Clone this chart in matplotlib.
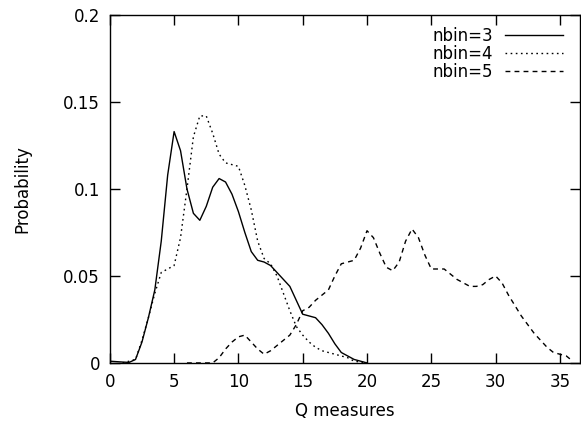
import matplotlib
matplotlib.use('Agg')
import matplotlib.pyplot as plt

# nbin=3 (solid)
x3 = [0, 1, 1.5, 2, 2.5, 3, 3.5, 4, 4.5, 5, 5.5, 6, 6.5, 7, 7.5, 8, 8.5, 9, 9.5, 10,
      10.5, 11, 11.5, 12, 12.5, 13, 13.5, 14, 14.5, 15, 15.5, 16, 16.5, 17, 17.5, 18,
      18.5, 19, 19.5, 20]
y3 = [0.001, 0.0005, 0.0003, 0.002, 0.012, 0.026, 0.042, 0.07, 0.108, 0.133, 0.122,
      0.1, 0.086, 0.082, 0.09, 0.101, 0.106, 0.104, 0.097, 0.087, 0.075, 0.064, 0.059,
      0.058, 0.056, 0.052, 0.048, 0.044, 0.036, 0.028, 0.027, 0.026, 0.022, 0.017,
      0.011, 0.006, 0.004, 0.002, 0.001, 0]

# nbin=4 (dotted)
x4 = [1, 2, 2.5, 3, 3.5, 4, 4.5, 5, 5.5, 6, 6.5, 7, 7.5, 8, 8.5, 9, 9.5, 10, 10.5, 11,
      11.5, 12, 12.5, 13, 13.5, 14, 14.5, 15, 15.5, 16, 16.5, 17, 17.5, 18, 18.5, 19,
      19.5, 20]
y4 = [0, 0.002, 0.013, 0.026, 0.04, 0.052, 0.054, 0.056, 0.072, 0.1, 0.13, 0.142,
      0.142, 0.132, 0.12, 0.115, 0.114, 0.113, 0.102, 0.088, 0.07, 0.06, 0.057, 0.05,
      0.04, 0.03, 0.021, 0.016, 0.012, 0.009, 0.007, 0.006, 0.005, 0.004, 0.003, 0.001,
      0.0005, 0]

# nbin=5 (dashed)
x5 = [6, 8, 8.5, 9, 9.5, 10, 10.5, 11, 11.5, 12, 12.5, 13, 13.5, 14, 14.5, 15, 15.5,
      16, 16.5, 17, 17.5, 18, 18.5, 19, 19.5, 20, 20.5, 21, 21.5, 22, 22.5, 23, 23.5,
      24, 24.5, 25, 25.5, 26, 26.5, 27, 27.5, 28, 28.5, 29, 29.5, 30, 30.5, 31, 31.5,
      32, 32.5, 33, 33.5, 34, 34.5, 35, 35.5, 36]
y5 = [0, 0, 0.003, 0.008, 0.012, 0.015, 0.016, 0.012, 0.008, 0.005, 0.007, 0.01,
      0.013, 0.016, 0.022, 0.03, 0.032, 0.036, 0.039, 0.042, 0.05, 0.057, 0.058, 0.059,
      0.066, 0.076, 0.072, 0.063, 0.055, 0.053, 0.058, 0.07, 0.077, 0.072, 0.062, 0.054,
      0.054, 0.054, 0.051, 0.048, 0.046, 0.044, 0.044, 0.045, 0.048, 0.05, 0.046, 0.039,
      0.033, 0.027, 0.022, 0.017, 0.013, 0.009, 0.006, 0.005, 0.004, 0.001]

xticks = [0, 5, 10, 15, 20, 25, 30, 35]
yticks = [0, 0.05, 0.1, 0.15, 0.2]
ytick_labels = ['0', '0.05', '0.1', '0.15', '0.2']

plt.rcParams['font.family'] = 'DejaVu Sans'
fs = 12
fig = plt.figure(figsize=(5.81, 4.23), dpi=100)
ax = fig.add_axes([0.189, 0.142, 0.809, 0.8225])

ax.plot(x3, y3, color='black', lw=1.0, ls='-', label='nbin=3')
ax.plot(x4, y4, color='black', lw=1.0, ls=(0, (1.2, 2.5)), label='nbin=4')
ax.plot(x5, y5, color='black', lw=1.0, ls=(0, (3.5, 3)), label='nbin=5')

ax.set_xlim(0, 36.55)
ax.set_ylim(0, 0.2)
ax.set_xticks(xticks)
ax.set_yticks(yticks)
ax.set_yticklabels(ytick_labels)
ax.tick_params(direction='in', length=7, width=1, top=True, right=True,
               labelsize=fs, pad=7)
for s in ax.spines.values():
    s.set_linewidth(1.0)

ax.set_xlabel('Q measures', fontsize=fs, labelpad=8)
ax.set_ylabel('Probability', fontsize=fs, labelpad=23)

ax.legend(loc='upper right', bbox_to_anchor=(0.964, 0.965), frameon=False,
          markerfirst=False, fontsize=fs, handlelength=3.5, handletextpad=0.7,
          labelspacing=0.0, borderaxespad=0, borderpad=0)

fig.savefig('out.png', dpi=100)
